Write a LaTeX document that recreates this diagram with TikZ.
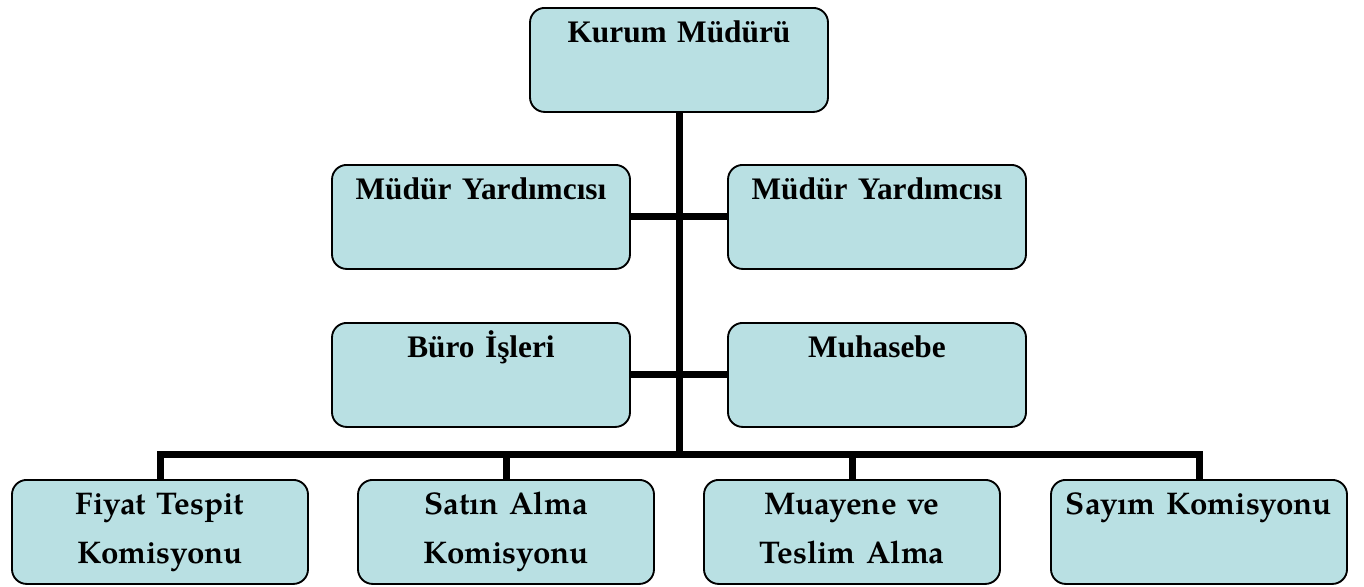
\documentclass[tikz,border=0pt]{standalone}
\usepackage{fontspec}
\setmainfont{Liberation Serif}
\newfontfamily\palafont{TeX Gyre Pagella}
\usetikzlibrary{positioning}
\definecolor{kboxfill}{HTML}{B9E0E3}
\definecolor{kline}{HTML}{000000}
\tikzset{
  unitbox/.style={draw=kline, fill=kboxfill, line width=1.4pt, rounded corners=11pt,
                  anchor=north, inner sep=0pt, align=center,
                  text width=223.5pt, text height=26.25pt, text depth=51.75pt},
  tbox/.style={unitbox, font=\fontsize{23.5}{36.75}\selectfont\bfseries},
  pbox/.style={unitbox, text width=222pt, font=\fontsize{23.5}{36.75}\selectfont\palafont\bfseries},
  conn/.style={kline, line width=5.25pt},
}
\begin{document}
\begin{tikzpicture}[x=0.75pt, y=-0.75pt]
  \useasboundingbox (0,0) rectangle (1364,586);

  % kurum ve yardimcilar
  \node[tbox] (kurum) at (679,7) {Kurum Müdürü};
  \node[tbox] (myard1) at (481,164) {Müdür Yardımcısı};
  \node[tbox] (myard2) at (877,164) {Müdür Yardımcısı};
  \node[tbox] (buro) at (481,322) {Büro İşleri};
  \node[tbox] (muhasebe) at (877,322) {Muhasebe};

  % komisyonlar
  \node[pbox] (fiyat) at (160,479) {Fiyat Tespit\\Komisyonu};
  \node[pbox] (satin) at (506,479) {Satın Alma\\Komisyonu};
  \node[pbox] (muayene) at (852,479) {Muayene ve\\Teslim Alma};
  \node[pbox] (sayim) at (1199,479) {Sayım Komisyonu};

  \coordinate (bus) at (679,454);
  \draw[conn] (kurum.south) -- (bus);
  \draw[conn] (myard1.east) -- (myard2.west);
  \draw[conn] (buro.east) -- (muhasebe.west);
  \foreach \k in {fiyat,satin,muayene,sayim}
    \draw[conn] (bus) -| (\k.north);
\end{tikzpicture}
\end{document}
